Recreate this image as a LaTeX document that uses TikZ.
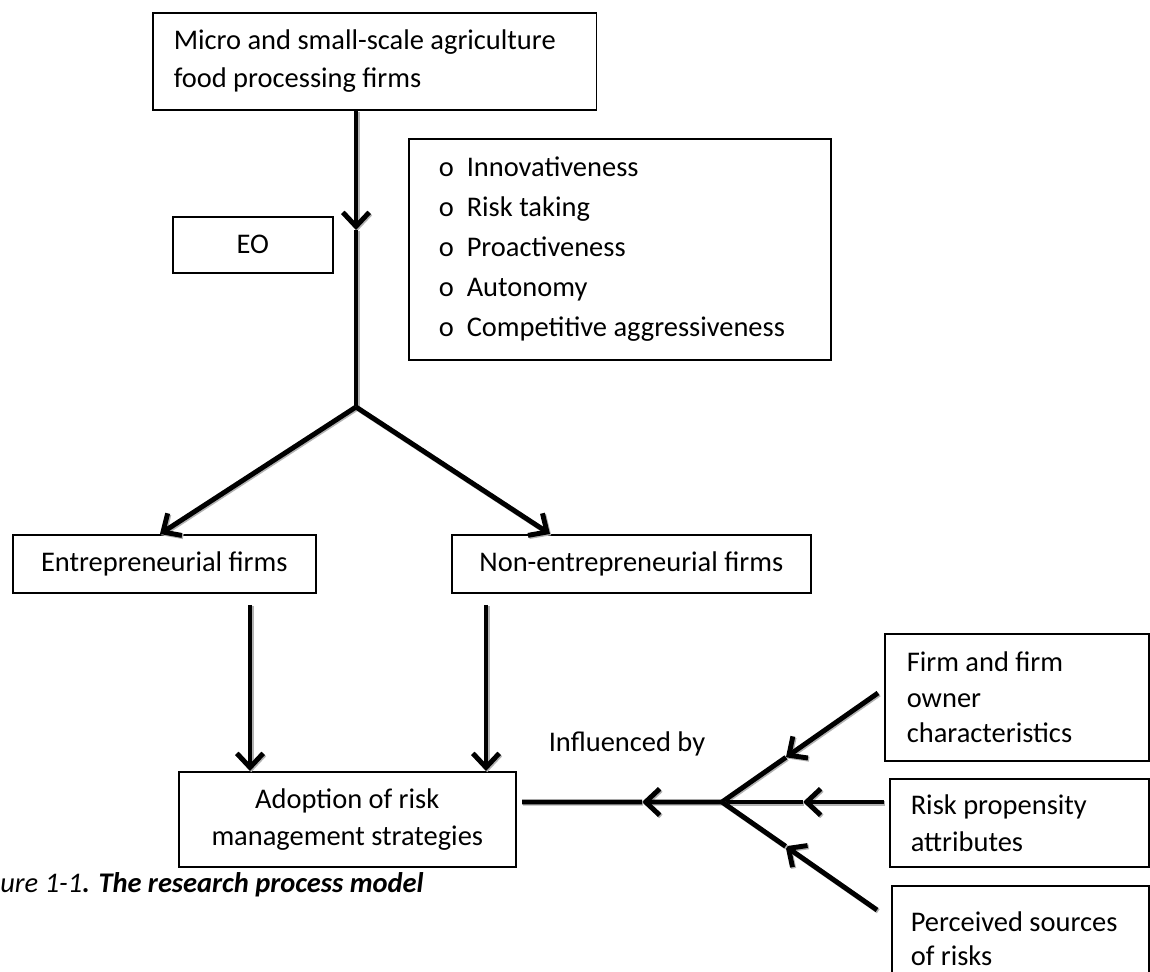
\documentclass[tikz,border=0pt]{standalone}
\usepackage{fontspec}
\setmainfont{Carlito}
\usepackage{tikz}
\usetikzlibrary{arrows.meta,calc}

\newcommand\boxfont{\fontsize{16.2pt}{21.6pt}\selectfont}
\newcommand\listfont{\fontsize{16.2pt}{22.8pt}\selectfont}
\newcommand\sidefont{\fontsize{16.2pt}{20.2pt}\selectfont}

\begin{document}
\begin{tikzpicture}[x=0.02cm, y=-0.02cm,
    box/.style={draw, line width=0.9pt, inner ysep=0pt, anchor=north west, font=\boxfont},
    link/.style={line width=2.8pt, line join=round,
        preaction={draw=black!30, line width=2.8pt, transform canvas={shift={(0.7pt,-0.7pt)}}}},
    flow/.style={link, -{Straight Barb[length=8pt,width=15pt]}}]
    \useasboundingbox (0,0) rectangle (1150,972);

    % boxes
    \node[box, minimum width=8.88cm, minimum height=1.94cm, inner xsep=0.42cm,
        text width=8.04cm, align=flush left] (firms) at (152,12)
        {Micro and small-scale agriculture\\food processing firms};
    \node[box, minimum width=3.2cm, minimum height=1.12cm, align=flush center] (eo) at (172,216) {EO};
    \node[box, minimum width=8.44cm, minimum height=4.42cm, inner xsep=0.6cm,
        text width=7.24cm, align=flush left, font=\listfont] (dims) at (408,138)
        {\makebox[0.56cm][l]{o}Innovativeness\\
         \makebox[0.56cm][l]{o}Risk taking\\
         \makebox[0.56cm][l]{o}Proactiveness\\
         \makebox[0.56cm][l]{o}Autonomy\\
         \makebox[0.56cm][l]{o}Competitive aggressiveness};
    \node[box, minimum width=6.06cm, minimum height=1.16cm, align=flush center] (ent) at (12,534)
        {Entrepreneurial firms};
    \node[box, minimum width=7.18cm, minimum height=1.16cm, align=flush center] (nonent) at (451,534)
        {Non-entrepreneurial firms};
    \node[box, minimum width=6.74cm, minimum height=1.9cm, align=flush center,
        font=\fontsize{16.2pt}{21pt}\selectfont] (adopt) at (178,771)
        {Adoption of risk\\management strategies};
    \node[box, minimum width=5.28cm, minimum height=2.54cm, inner xsep=0.44cm,
        text width=4.4cm, align=flush left, font=\sidefont] (owner) at (884,633)
        {Firm and firm\\owner\\characteristics};
    \node[box, minimum width=5.18cm, minimum height=1.76cm, inner xsep=0.42cm,
        text width=4.34cm, align=flush left, font=\fontsize{16.2pt}{21pt}\selectfont] (prop) at (889,778)
        {Risk propensity\\attributes};
    \node[box, minimum width=5.14cm, minimum height=2.12cm, inner xsep=0.38cm,
        text width=4.38cm, align=flush left, font=\fontsize{16.2pt}{19.3pt}\selectfont] (srcs) at (891,885)
        {Perceived sources\\of risks};

    \node[font=\boxfont, anchor=base] (infl) at (627,752) {Influenced by};
    \node[font=\boxfont, anchor=base west, inner sep=0pt] (cap) at (0,892)
        {\itshape ure 1-1\bfseries. The research process model};

    % junctions and arrow points
    \coordinate (split) at (356,407);
    \coordinate (eotip) at (356,230);
    \coordinate (ltip) at (160,534);
    \coordinate (rtip) at (550,534);
    \coordinate (lfoot) at (250,605);
    \coordinate (rfoot) at (486,605);
    \coordinate (join) at (722,802);
    \coordinate (aend) at (522,802);
    \coordinate (o1) at (878,693);
    \coordinate (p1) at (884,802);
    \coordinate (s1) at (877,910);

    \draw[flow] (split |- firms.south) -- (eotip);
    \draw[link] (eotip) -- (split);
    \draw[flow] (split) -- (ltip);
    \draw[flow] (split) -- (rtip);
    \draw[flow] (lfoot) -- (lfoot |- adopt.north);
    \draw[flow] (rfoot) -- (rfoot |- adopt.north);

    \draw[flow] (join) -- ($(join)!.4!(aend)$);
    \draw[link] ($(join)!.4!(aend)$) -- (aend);
    \draw[flow] (o1) -- ($(o1)!.59!(join)$);
    \draw[link] ($(o1)!.59!(join)$) -- (join);
    \draw[flow] (p1) -- ($(p1)!.5!(join)$);
    \draw[link] ($(p1)!.5!(join)$) -- (join);
    \draw[flow] (s1) -- ($(s1)!.59!(join)$);
    \draw[link] ($(s1)!.59!(join)$) -- (join);
\end{tikzpicture}
\end{document}
